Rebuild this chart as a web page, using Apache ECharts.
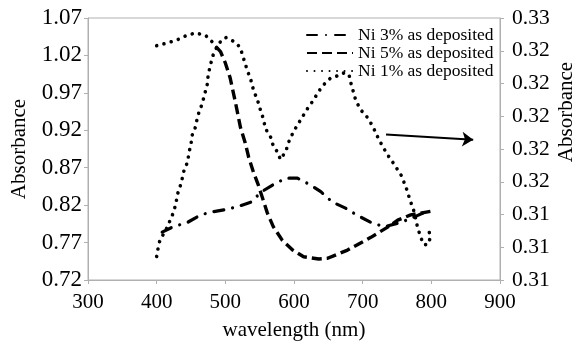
<!DOCTYPE html>
<html>
<head>
<meta charset="utf-8">
<script src="https://cdn.jsdelivr.net/npm/echarts@6/dist/echarts.min.js"></script>
<style>
html, body { margin: 0; padding: 0; background: #fff; }
#main { width: 576px; height: 346px; }
</style>
</head>
<body>
<div id="main"></div>
<script>
// wavelength (nm) / absorbance
var ni3Wave = [408, 424, 445, 464, 481, 500, 518, 537, 553, 569, 588, 605, 624, 639, 656, 675, 693, 712, 731, 756, 777, 799];
var ni3Abs  = [0.784, 0.791, 0.797, 0.807, 0.811, 0.814, 0.818, 0.824, 0.838, 0.847, 0.856, 0.856, 0.847, 0.838, 0.824, 0.816, 0.806, 0.797, 0.791, 0.797, 0.805, 0.814];

var ni5Wave = [400, 417, 430, 442, 456, 471, 481, 488, 493, 500, 507, 515, 522, 529, 534, 541, 548, 554, 561, 570, 583, 598, 614, 636, 649, 678, 712, 737, 751, 770, 800];
var ni5Abs  = [1.033, 1.037, 1.041, 1.046, 1.050, 1.047, 1.038, 1.030, 1.025, 1.010, 0.990, 0.956, 0.924, 0.903, 0.884, 0.864, 0.847, 0.830, 0.810, 0.791, 0.773, 0.760, 0.751, 0.748, 0.749, 0.760, 0.777, 0.791, 0.800, 0.807, 0.812];
var ni5DottedPoints = 8; // first part of the 5% curve is printed dotted

// Ni 1% is read against the right axis
var ni1Wave = [400, 402, 405, 410, 415, 420, 424, 428, 430, 434, 437, 440, 445, 447, 450, 452, 456, 459, 462, 466, 471, 474, 475, 478, 481, 484, 490, 496, 501, 509, 516, 522, 526, 532, 537, 541, 547, 551, 556, 558, 566, 570, 577, 580, 588, 592, 599, 607, 614, 621, 628, 636, 643, 653, 664, 671, 680, 683, 690, 697, 707, 715, 722, 729, 737, 745, 756, 763, 769, 775, 780, 785, 789, 795, 799, 796];
var ni1Abs  = [0.3093, 0.3099, 0.3106, 0.3110, 0.3115, 0.3121, 0.3126, 0.3133, 0.3140, 0.3146, 0.3152, 0.3159, 0.3165, 0.3172, 0.3179, 0.3186, 0.3191, 0.3198, 0.3204, 0.3209, 0.3219, 0.3225, 0.3232, 0.3238, 0.3245, 0.3249, 0.3255, 0.3259, 0.3260, 0.3258, 0.3256, 0.3252, 0.3245, 0.3235, 0.3228, 0.3220, 0.3212, 0.3205, 0.3197, 0.3191, 0.3184, 0.3177, 0.3172, 0.3167, 0.3173, 0.3180, 0.3188, 0.3195, 0.3201, 0.3207, 0.3212, 0.3219, 0.3224, 0.3229, 0.3231, 0.3233, 0.3232, 0.3225, 0.3212, 0.3205, 0.3199, 0.3192, 0.3184, 0.3177, 0.3170, 0.3164, 0.3155, 0.3146, 0.3136, 0.3127, 0.3115, 0.3107, 0.3102, 0.3102, 0.3108, 0.3113];

// arrow pointing the 1% curve to the right axis (wavelength, right-axis value)
var arrowFrom = [734, 0.3186];
var arrowTo   = [861, 0.3182];

var leftTicks  = ['0.72', '0.77', '0.82', '0.87', '0.92', '0.97', '1.02', '1.07'];
var rightTicks = ['0.31', '0.31', '0.31', '0.32', '0.32', '0.32', '0.32', '0.32', '0.33'];

function pairs (xs, ys) {
    return xs.map(function (x, i) { return [x, ys[i]]; });
}

var serif = 'Liberation Serif';
var axisGray = '#b0b0b0';

var myChart = echarts.init(document.getElementById('main'));
var option = {
    animation: false,
    textStyle: { fontFamily: serif, color: '#000' },
    grid: {
        left: 88, right: 76, top: 18, bottom: 66,
        containLabel: false, outerBoundsMode: 'none',
        show: true, borderColor: axisGray, borderWidth: 1
    },
    legend: {
        orient: 'vertical',
        left: 301, top: 21,
        itemWidth: 46, itemHeight: 12, itemGap: 0,
        itemStyle: { opacity: 0 },
        textStyle: { fontFamily: serif, fontSize: 17.5, color: '#000' },
        data: ['Ni 3% as deposited', 'Ni 5% as deposited', 'Ni 1% as deposited']
    },
    xAxis: {
        type: 'value', min: 300, max: 900, interval: 100,
        name: 'wavelength (nm)', nameLocation: 'middle', nameGap: 40,
        nameTextStyle: { fontFamily: serif, fontSize: 21, color: '#000' },
        axisLine: { lineStyle: { color: axisGray } },
        axisTick: { length: 4, lineStyle: { color: axisGray } },
        axisLabel: { fontFamily: serif, fontSize: 21, color: '#000', margin: 12 },
        splitLine: { show: false }
    },
    yAxis: [
        {
            type: 'value', min: 0.72, max: 1.07, interval: 0.05,
            name: 'Absorbance', nameLocation: 'middle', nameGap: 58, nameRotate: 90,
            nameMoveOverlap: false,
            nameTextStyle: { fontFamily: serif, fontSize: 21, color: '#000' },
            axisLine: { show: true, lineStyle: { color: axisGray } },
            axisTick: { show: true, length: 4, lineStyle: { color: axisGray } },
            axisLabel: {
                fontFamily: serif, fontSize: 23, color: '#000', margin: 6,
                formatter: function (v, i) { return leftTicks[i]; }
            },
            splitLine: { show: false }
        },
        {
            type: 'value', position: 'right', min: 0.3075, max: 0.3275, interval: 0.0025,
            name: 'Absorbance', nameLocation: 'middle', nameGap: 56, nameRotate: 90,
            nameMoveOverlap: false,
            nameTextStyle: { fontFamily: serif, fontSize: 21, color: '#000', padding: [0, 0, 0, 74] },
            axisLine: { show: true, lineStyle: { color: axisGray } },
            axisTick: { show: true, length: 4, lineStyle: { color: axisGray } },
            axisLabel: {
                fontFamily: serif, fontSize: 21.5, color: '#000', margin: 12,
                formatter: function (v, i) { return rightTicks[i]; }
            },
            splitLine: { show: false }
        }
    ],
    series: [
        {
            name: 'Ni 3% as deposited',
            type: 'line',
            symbol: 'none',
            itemStyle: { color: '#000' },
            lineStyle: { color: '#000', width: 3.2, type: [10, 9, 0.01, 9], cap: 'round' },
            data: pairs(ni3Wave, ni3Abs)
        },
        {
            name: 'Ni 5% as deposited',
            type: 'line',
            symbol: 'none',
            itemStyle: { color: '#000' },
            lineStyle: { color: '#000', width: 3.4, type: [10, 5], cap: 'butt' },
            data: pairs(ni5Wave.slice(ni5DottedPoints - 1), ni5Abs.slice(ni5DottedPoints - 1))
        },
        {
            name: 'Ni 5% as deposited',
            type: 'line',
            symbol: 'none',
            itemStyle: { color: '#000' },
            lineStyle: { color: '#000', width: 3.6, type: [0.01, 7.5], cap: 'round' },
            data: pairs(ni5Wave.slice(0, ni5DottedPoints), ni5Abs.slice(0, ni5DottedPoints))
        },
        {
            name: 'Ni 1% as deposited',
            type: 'line',
            yAxisIndex: 1,
            symbol: 'none',
            itemStyle: { color: '#000' },
            lineStyle: { color: '#000', width: 3.6, type: [0.01, 7.5], cap: 'round' },
            data: pairs(ni1Wave, ni1Abs),
            markLine: {
                silent: true,
                symbol: ['none', 'arrow'],
                symbolSize: 11,
                label: { show: false },
                lineStyle: { color: '#000', width: 2, type: 'solid' },
                data: [[{ coord: arrowFrom }, { coord: arrowTo }]]
            }
        }
    ]
};
myChart.setOption(option);
</script>
</body>
</html>
